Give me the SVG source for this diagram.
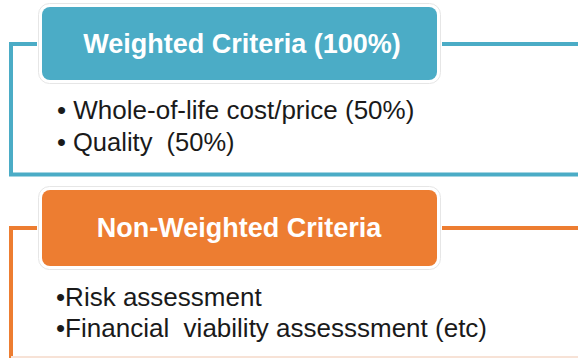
<svg xmlns="http://www.w3.org/2000/svg" width="578" height="358" viewBox="0 0 578 358">
<style>
.frame{fill:none;stroke-width:4}
.blue{stroke:#4BACC6}
.orange{stroke:#ED7D31}
.halo{fill:none;stroke:#e6e6e6;stroke-width:1}
.tabtext{font-family:"Liberation Sans",Arial,sans-serif;font-weight:bold;font-size:27px;fill:#ffffff;text-anchor:middle}
.body{font-family:"Liberation Sans",Arial,sans-serif;font-size:26px;fill:#1a1a1a;white-space:pre}
</style>
<rect width="578" height="358" fill="#ffffff"/>
<g id="weighted">
  <polyline class="frame blue" points="37,44 11,44 11,174.5 580,174.5"/>
  <line class="frame blue" x1="442" y1="44" x2="580" y2="44"/>
  <rect class="halo" x="38.5" y="3.5" width="402" height="80" rx="11"/>
  <rect x="40" y="5" width="399" height="77" rx="10" fill="#ffffff"/>
  <rect x="42" y="7" width="395" height="73" rx="8" fill="#4BACC6"/>
  <text class="tabtext" x="242" y="53">Weighted Criteria (100%)</text>
  <text class="body" x="57" y="119" xml:space="preserve">• Whole-of-life cost/price (50%)</text>
  <text class="body" x="57" y="151" style="font-size:25.5px" xml:space="preserve">• Quality  (50%)</text>
</g>
<g id="nonweighted">
  <polyline class="frame orange" points="37,228 11,228 11,360"/>
  <line class="frame orange" x1="442" y1="228" x2="580" y2="228"/>
  <line x1="11" y1="357" x2="578" y2="357" stroke="#f7e2d6" stroke-width="2"/>
  <rect class="halo" x="38.5" y="186.5" width="402" height="83" rx="11"/>
  <rect x="40" y="188" width="399" height="80" rx="10" fill="#ffffff"/>
  <rect x="42" y="190" width="395" height="76" rx="8" fill="#ED7D31"/>
  <text class="tabtext" x="239" y="237">Non-Weighted Criteria</text>
  <text class="body" x="56" y="306" xml:space="preserve">•Risk assessment</text>
  <text class="body" x="56" y="337" xml:space="preserve">•Financial  viability assesssment (etc)</text>
</g>
<g id="connectors"/>
</svg>
